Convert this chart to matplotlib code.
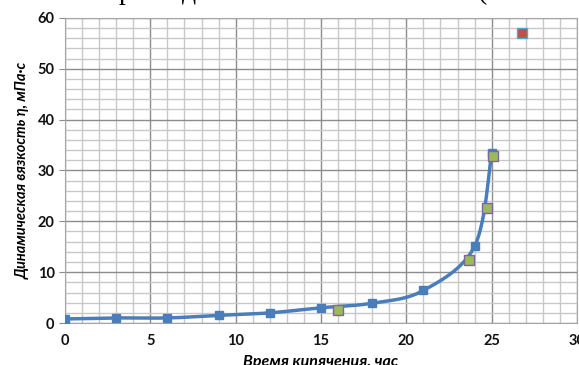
import numpy as np
import matplotlib
matplotlib.use("Agg")
import matplotlib.pyplot as plt
from matplotlib.ticker import MultipleLocator

# boiling time (h) vs dynamic viscosity (mPa*s)
t_main = [0, 3, 6, 9, 12, 15, 18, 21, 24, 25]
eta_main = [0.8, 1.0, 1.0, 1.5, 2.0, 3.0, 3.9, 6.4, 15.1, 33.4]

t_check = [16, 23.7, 24.7, 25.1]
eta_check = [2.6, 12.3, 22.6, 32.9]

t_gel = [26.8]
eta_gel = [57.0]


def smooth(x, y, n=30):
    # Catmull-Rom curve through the points, like Excel's smoothed line
    p = np.column_stack([x, y]).astype(float)
    p = np.vstack([p[0], p, p[-1]])
    out = []
    s = np.linspace(0, 1, n)[:, None]
    for i in range(1, len(p) - 2):
        p0, p1, p2, p3 = p[i - 1], p[i], p[i + 1], p[i + 2]
        c = 0.5 * ((2 * p1) + (-p0 + p2) * s + (2 * p0 - 5 * p1 + 4 * p2 - p3) * s ** 2
                   + (-p0 + 3 * p1 - 3 * p2 + p3) * s ** 3)
        out.append(c)
    out = np.vstack(out)
    return out[:, 0], out[:, 1]


plt.rcParams['font.family'] = ['Lato', 'DejaVu Sans']

fig = plt.figure(figsize=(5.79, 3.65), dpi=100)
ax = fig.add_axes([0.1123, 0.115, 0.8842, 0.836])

sx, sy = smooth(t_main, eta_main)
ax.plot(sx, sy, color='#4A7EBB', lw=2.5, zorder=3)
ax.plot(t_main, eta_main, 's', color='#4A7EBB', ms=6, zorder=4)
ax.plot(t_check, eta_check, 's', color='#9BBB59', mec='#8064A2', mew=1, ms=6.5, zorder=5)
ax.plot(t_gel, eta_gel, 's', color='#C0504D', mec='#4BACC6', mew=1, ms=6.5, zorder=5)

ax.set_xlim(0, 30)
ax.set_ylim(0, 60)
ax.xaxis.set_major_locator(MultipleLocator(5))
ax.xaxis.set_minor_locator(MultipleLocator(1))
ax.yaxis.set_major_locator(MultipleLocator(10))
ax.yaxis.set_minor_locator(MultipleLocator(2))
ax.grid(which='major', color='#8c8c8c', lw=1.0)
ax.grid(which='minor', color='#c8c8c8', lw=1.0)
ax.set_axisbelow(True)

for s in ax.spines.values():
    s.set_color('#a6a6a6')
ax.tick_params(which='minor', length=0)
ax.tick_params(which='major', length=4, color='#8c8c8c', labelsize=10.5, labelcolor='#111111')
ax.tick_params(axis='x', length=0, pad=8)
for lab in ax.get_xticklabels() + ax.get_yticklabels():
    lab.set_fontweight('bold')

ax.set_xlabel('Время кипячения, час', fontsize=11.5, fontweight='bold', style='italic', labelpad=5)
ax.set_ylabel('Динамическая вязкость η, мПа·с', fontsize=10.5, fontweight='bold', style='italic', labelpad=6)

# bits of the document line above the chart, cut by the top edge
for xp, ch in [(119, 'р'), (182, 'д'), (478, '(')]:
    fig.text(xp / 579, 1 + 1 / 365, ch, family='Liberation Serif', fontsize=20,
             va='baseline', ha='left', color='black')

fig.savefig('out.png', dpi=100)
